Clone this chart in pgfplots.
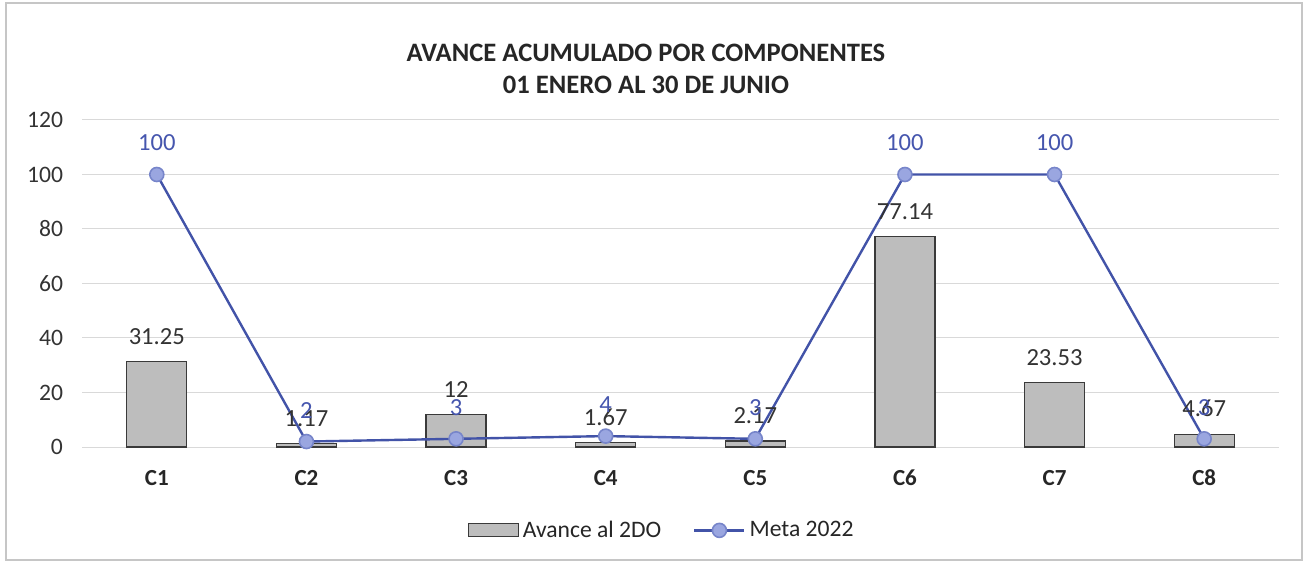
\documentclass[border=0pt]{standalone}
\usepackage{pgfplots}
\pgfplotsset{compat=1.18}
\usepackage{fontspec}
\setmainfont{Carlito}
\definecolor{barfill}{HTML}{BDBDBD}
\definecolor{baredge}{HTML}{3A3A3A}
\definecolor{linecol}{HTML}{4253A8}
\definecolor{markfill}{HTML}{9AA6E0}
\definecolor{labcol}{HTML}{4656AE}
\definecolor{gridc}{HTML}{D9D9D9}
\begin{document}
\begin{tikzpicture}
\path[use as bounding box] (0,0) rectangle (654.5bp,281.5bp);
\draw[gray!45, line width=0.6bp] (3bp,1.5bp) rectangle (651bp,280bp);
\node[font=\fontsize{13.3bp}{15bp}\selectfont\bfseries, align=center, text=black!85] at (323bp,247bp) {AVANCE ACUMULADO POR COMPONENTES\\[1bp]01 ENERO AL 30 DE JUNIO};
\begin{axis}[
  at={(41bp,58bp)}, anchor=south west,
  scale only axis, width=598.5bp, height=163.5bp,
  xmin=-0.5, xmax=7.5, ymin=0, ymax=120,
  ytick={0,20,...,120},
  xtick=data, xticklabels={C1,C2,C3,C4,C5,C6,C7,C8},
  x tick label style={font=\fontsize{11.5bp}{13bp}\selectfont\bfseries, text=black!85, yshift=-8bp},
  y tick label style={font=\fontsize{11.8bp}{13bp}\selectfont, text=black!80, xshift=-6bp},
  /pgf/number format/assume math mode=true,
  axis line style={draw=none},
  major tick length=0pt,
  ymajorgrids, grid style={gridc, line width=0.5bp},
  legend style={at={(0.485,-0.255)}, anchor=center, draw=none, legend columns=2,
    font=\fontsize{11.8bp}{13bp}\selectfont, text=black!85,
    /tikz/every even column/.append style={column sep=14bp}},
  legend cell align=left,
  clip=false,
]
\addplot[ybar, bar width=30bp, fill=barfill, draw=baredge, line width=0.6bp,
  point meta=explicit symbolic,
  nodes near coords={\pgfplotspointmeta},
  every node near coord/.append style={font=\fontsize{12.3bp}{13bp}\selectfont, text=black!80, yshift=5bp},
  legend image code/.code={\draw[fill=barfill, draw=baredge, line width=0.6bp] (0bp,-3bp) rectangle (25bp,3.5bp);}]
coordinates {(0,31.25)[31.25] (1,1.17)[1.17] (2,12)[12] (3,1.67)[1.67] (4,2.17)[2.17] (5,77.14)[77.14] (6,23.53)[23.53] (7,4.67)[4.67]};
\addlegendentry{Avance al 2DO}
\addplot[color=linecol, line width=1.2bp, mark=*, mark size=3.5bp,
  mark options={fill=markfill, draw=markfill!60!linecol, line width=0.8bp},
  nodes near coords,
  every node near coord/.append style={font=\fontsize{12.3bp}{13bp}\selectfont, text=labcol, yshift=8bp},
  legend image code/.code={\draw[linecol, line width=1.2bp] (0bp,0bp) -- (25bp,0bp);
    \draw[fill=markfill, draw=markfill!60!linecol, line width=0.8bp] (12.5bp,0bp) circle (3.5bp);}]
coordinates {(0,100) (1,2) (2,3) (3,4) (4,3) (5,100) (6,100) (7,3)};
\addlegendentry{Meta 2022}
\end{axis}
\end{tikzpicture}
\end{document}
